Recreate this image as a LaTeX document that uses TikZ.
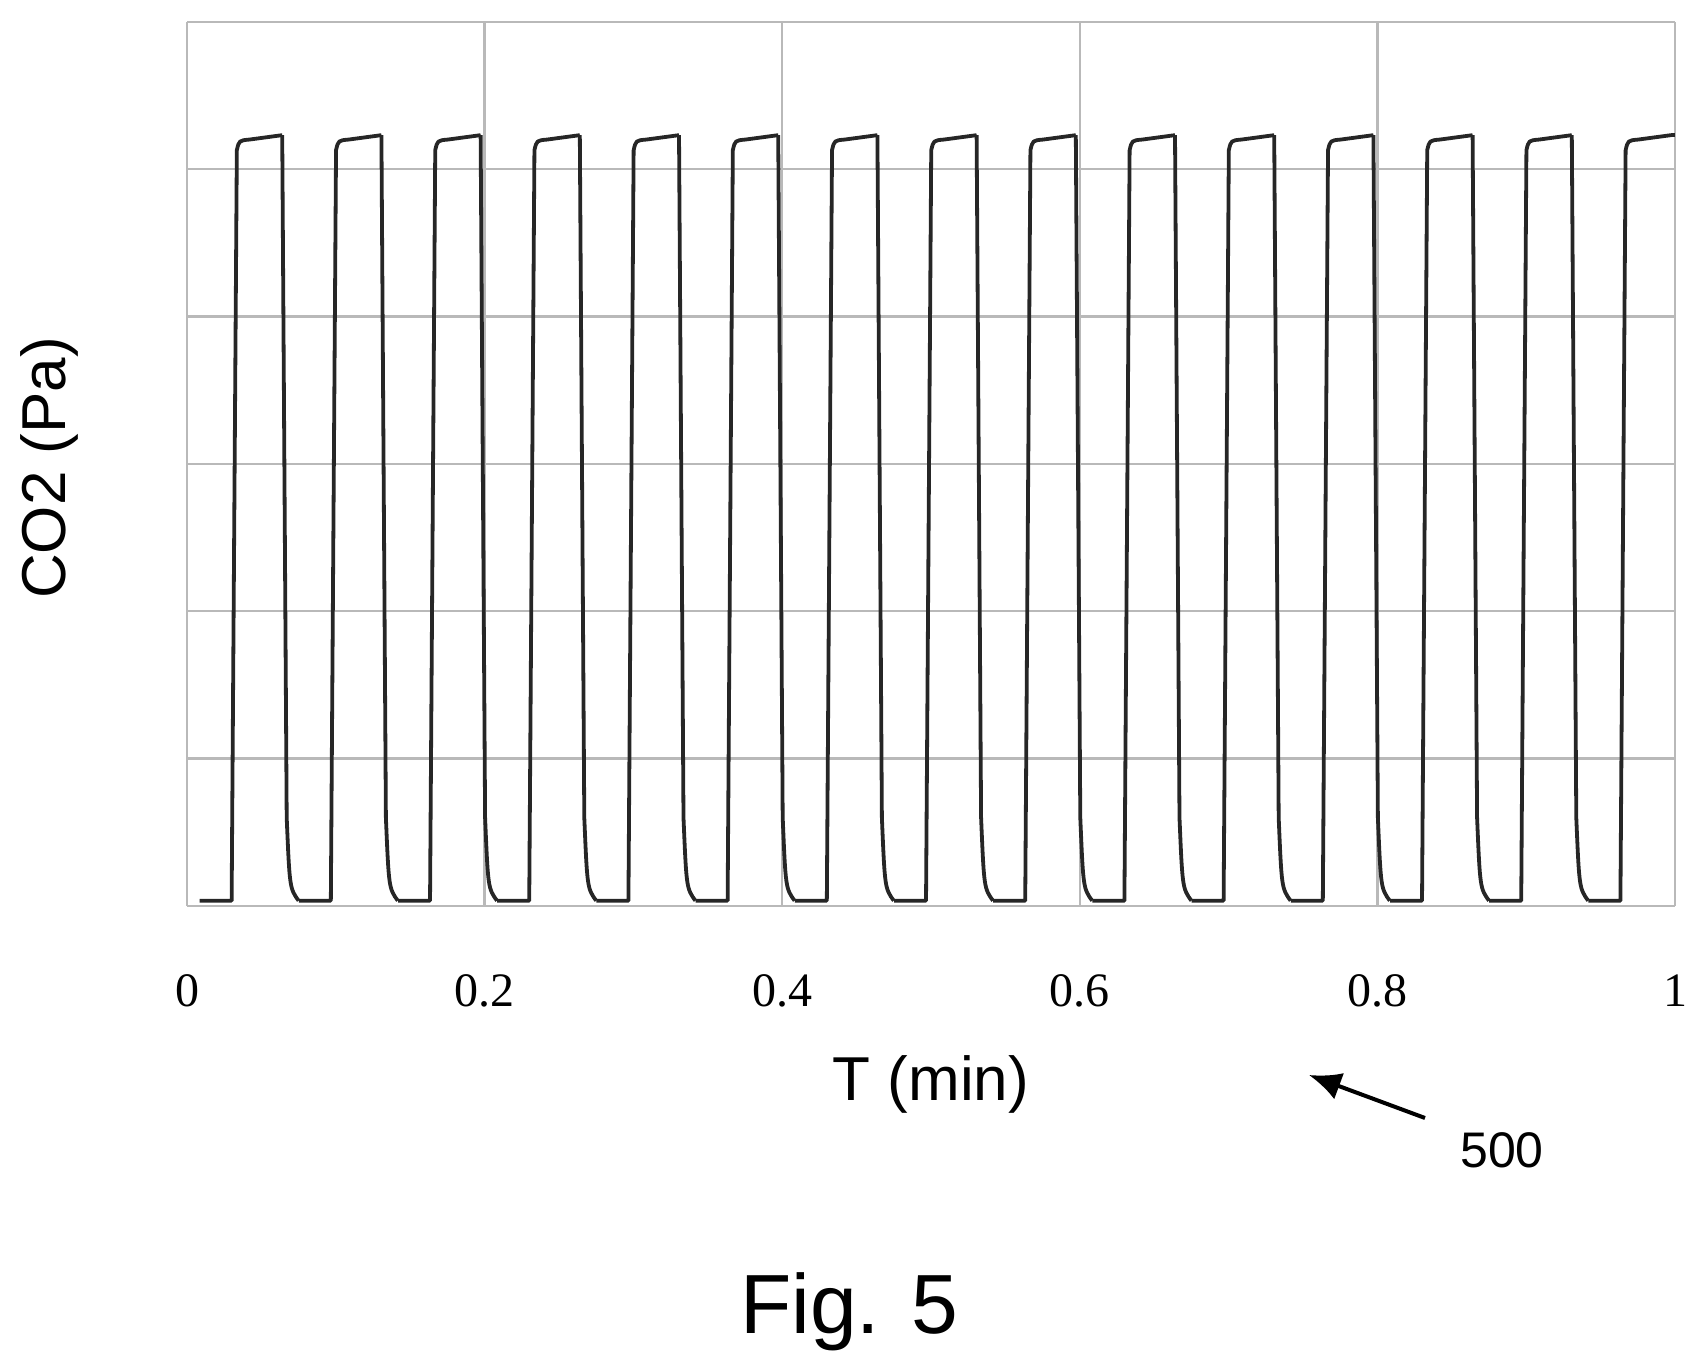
\documentclass[tikz,border=0pt]{standalone}
\usepackage{fontspec}
\setmainfont{Liberation Sans}
\newfontfamily\tickfont{Liberation Serif}
\usetikzlibrary{arrows.meta}
\begin{document}
\begin{tikzpicture}[x=0.5pt,y=-0.5pt,
  gridline/.style={draw=gray!55, line width=1.2pt},
  wave/.style={draw=black!85, line width=1.9pt, line join=round},
  ticklabel/.style={font=\tickfont\fontsize{24}{26}\selectfont},
  axislabel/.style={font=\fontsize{31}{34}\selectfont}]

\useasboundingbox (0,0) rectangle (1699,1364);

% grid
\foreach \i in {0,...,5}
	\draw[gridline] (187+\i*297.6, 22) -- (187+\i*297.6, 906);
\foreach \j in {0,...,6}
	\draw[gridline] (187, 22+\j*147.3) -- (1675, 22+\j*147.3);

% signal
\begin{scope}[shift={(187,906)}, x=744pt, y=442pt]
\foreach \k in {0,...,14}{
	\pgfmathsetmacro{\a}{0.03+\k/15}
	\draw[wave] (\a-0.0215,0.006) -- (\a,0.006) -- (\a+0.0035,0.855)
		.. controls (\a+0.005,0.866) .. (\a+0.012,0.867) -- (\a+0.034,0.872);
	\ifnum\k<14
		\draw[wave] (\a+0.034,0.872) -- (\a+0.037,0.1)
			.. controls (\a+0.039,0.02) .. (\a+0.045,0.006);
	\else
		\draw[wave] (\a+0.034,0.872) -- (1,0.872);
	\fi
}
\end{scope}

% ticks
\foreach \v [count=\i from 0] in {0,0.2,0.4,0.6,0.8,1}
	\node[ticklabel] (tick\i) at (187+\i*297.6, 991) {\v};

\node[axislabel] (xlabel) at (931,1084) {T (min)};
\node[axislabel, rotate=90] (ylabel) at (49,468) {CO2 (Pa)};

\node[font=\fontsize{25}{28}\selectfont] (ref) at (1502,1150) {500};
\coordinate (arrowtip) at (1309,1075);
\draw[line width=2pt, -{Latex[length=16pt,width=14pt]}] (1425,1118) -- (arrowtip);
\node[font=\fontsize{42}{46}\selectfont] (fig) at (849,1312) {Fig. 5};

\end{tikzpicture}
\end{document}
